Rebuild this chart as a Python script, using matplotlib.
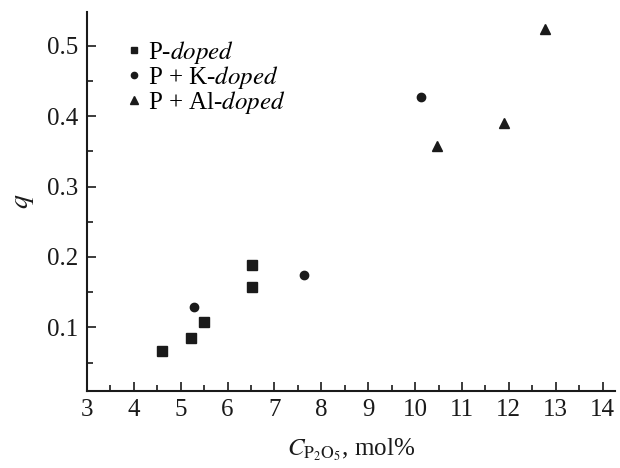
import matplotlib
matplotlib.use("Agg")
import matplotlib.pyplot as plt
from matplotlib.ticker import MultipleLocator

plt.rcParams['font.family'] = ['Liberation Serif', 'DejaVu Serif']
plt.rcParams['mathtext.fontset'] = 'stix'

p_x = [4.61, 5.22, 5.50, 6.52, 6.52]
p_y = [0.066, 0.085, 0.107, 0.158, 0.189]
pk_x = [5.29, 7.63, 10.12]
pk_y = [0.129, 0.174, 0.428]
pal_x = [10.47, 11.90, 12.78]
pal_y = [0.358, 0.391, 0.524]

labels = [r'P-$\mathit{doped}$', r'P + K-$\mathit{doped}$', r'P + Al-$\mathit{doped}$']
xticks = list(range(3, 15))
yticks = [0.1, 0.2, 0.3, 0.4, 0.5]

col = '#1a1a1a'
fs = 18
fig = plt.figure(figsize=(6.2, 4.68), dpi=100)
ax = fig.add_axes([0.1403, 0.1645, 0.852, 0.8095])

ax.plot(p_x, p_y, 's', color=col, ms=6.5, ls='none', label=labels[0])
ax.plot(pk_x, pk_y, 'o', color=col, ms=6, ls='none', label=labels[1])
ax.plot(pal_x, pal_y, '^', color=col, ms=7.5, ls='none', label=labels[2])

ax.set_xlim(3, 14.27)
ax.set_ylim(0.0095, 0.548)
ax.set_xticks(xticks)
ax.set_yticks(yticks)
ax.set_yticklabels([f'{v:.1f}' for v in yticks])
ax.xaxis.set_minor_locator(MultipleLocator(0.5))
ax.yaxis.set_minor_locator(MultipleLocator(0.05))
for s in ['top', 'right']:
    ax.spines[s].set_visible(False)
for s in ['left', 'bottom']:
    ax.spines[s].set_linewidth(1.5)
    ax.spines[s].set_color(col)
ax.tick_params(which='major', direction='in', length=6.5, width=1.2, labelsize=fs, colors=col, pad=6)
ax.tick_params(which='minor', direction='in', length=4, width=1.2, colors=col)

ax.set_xlabel(r'$C_{\mathrm{P_2O_5}}$, mol%', fontsize=fs, color=col, labelpad=11)
ax.set_ylabel(r'$q$', fontsize=20, color=col, labelpad=8)

leg = ax.legend(loc='upper left', bbox_to_anchor=(0.058, 0.955), frameon=False, fontsize=fs,
                handlelength=0.5, handletextpad=0.3, labelspacing=-0.08, markerscale=0.75,
                borderaxespad=0)

fig.savefig('out.png', dpi=100)
